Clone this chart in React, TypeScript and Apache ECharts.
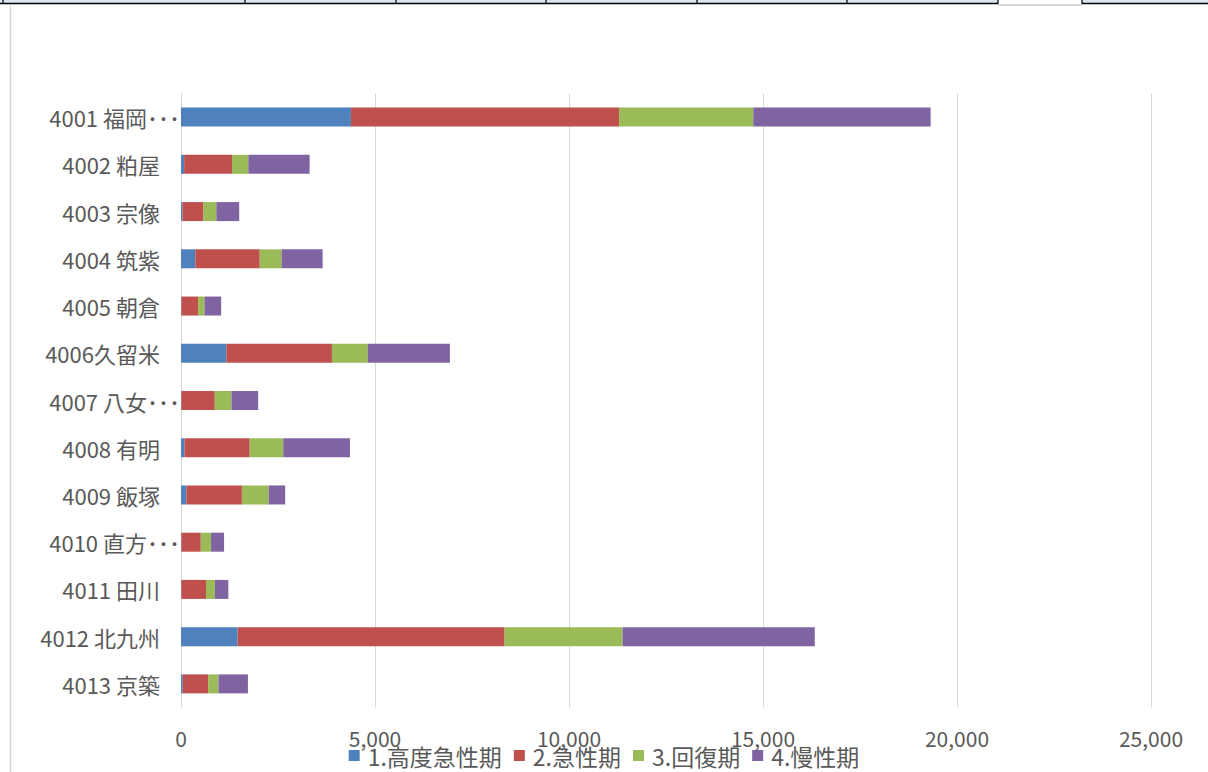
import React, { useEffect, useRef } from "react";
import * as echarts from "echarts";

const categories = [
  "4001 福岡･･･",
  "4002 粕屋",
  "4003 宗像",
  "4004 筑紫",
  "4005 朝倉",
  "4006久留米",
  "4007 八女･･･",
  "4008 有明",
  "4009 飯塚",
  "4010 直方･･･",
  "4011 田川",
  "4012 北九州",
  "4013 京築",
];
const truncated = [true, false, false, false, false, false, true, false, false, true, false, false, false];

const seriesNames = ["1.高度急性期", "2.急性期", "3.回復期", "4.慢性期"];
const highAcute = [4380, 80, 40, 370, 10, 1170, 10, 90, 140, 10, 10, 1460, 45];
const acute = [6910, 1235, 540, 1660, 430, 2720, 860, 1680, 1430, 500, 635, 6880, 655];
const recovery = [3460, 420, 330, 560, 165, 925, 430, 865, 690, 265, 230, 3040, 265];
const chronic = [4570, 1580, 590, 1060, 430, 2115, 690, 1720, 425, 335, 345, 4955, 760];
const colors = ["#4F81BD", "#C0504D", "#9BBB59", "#8064A2"];
const xTicks = { min: 0, max: 25000, interval: 5000 };

const FONT = "'Noto Sans CJK JP', 'Noto Sans', sans-serif";

export default function App() {
  const ref = useRef<HTMLDivElement>(null);
  useEffect(() => {
    if (!ref.current) return;
    const chart = echarts.init(ref.current, null, { renderer: "svg" });
    const values = [highAcute, acute, recovery, chronic];
    const cellDividers = [3, 245, 396, 546, 697, 847, 998];
    chart.setOption({
      animation: false,
      backgroundColor: "#ffffff",
      textStyle: { fontFamily: FONT },
      grid: { left: 181, right: 57, top: 93.5, bottom: 64.5, containLabel: false },
      xAxis: {
        type: "value",
        min: xTicks.min,
        max: xTicks.max,
        interval: xTicks.interval,
        axisLine: { show: false },
        axisTick: { show: false },
        splitLine: { show: true, lineStyle: { color: "#D9D9D9", width: 1 } },
        axisLabel: {
          color: "#595959",
          fontSize: 21,
          fontFamily: FONT,
          margin: 20,
          formatter: (v: number) => v.toLocaleString("en-US"),
        },
      },
      yAxis: {
        type: "category",
        inverse: true,
        data: categories.map((c, i) => ({
          value: c,
          textStyle: { padding: truncated[i] ? [0, 0, 0, 0] : [0, 20, 0, 0] },
        })),
        axisLine: { show: true, lineStyle: { color: "#D9D9D9", width: 1 } },
        axisTick: { show: false },
        axisLabel: { color: "#595959", fontSize: 22, fontFamily: FONT, margin: 1 },
      },
      legend: {
        bottom: 0,
        left: "center",
        itemWidth: 11,
        itemHeight: 11,
        itemGap: 12,
        icon: "rect",
        textStyle: { color: "#595959", fontSize: 23, fontFamily: FONT, padding: [0, 0, 0, 3] },
        data: seriesNames,
      },
      series: seriesNames.map((name, i) => ({
        name,
        type: "bar",
        stack: "total",
        barWidth: 19,
        itemStyle: { color: colors[i] },
        data: values[i],
      })),
      graphic: [
        { type: "rect", shape: { x: 0, y: 0, width: 998, height: 3 }, style: { fill: "#DCE6F1" }, silent: true },
        { type: "rect", shape: { x: 1082, y: 0, width: 126, height: 3 }, style: { fill: "#DCE6F1" }, silent: true },
        { type: "line", shape: { x1: 0, y1: 3.5, x2: 998, y2: 3.5 }, style: { stroke: "#000", lineWidth: 1.5 }, silent: true },
        { type: "line", shape: { x1: 1082, y1: 3.5, x2: 1208, y2: 3.5 }, style: { stroke: "#000", lineWidth: 1.5 }, silent: true },
        ...cellDividers.map((x) => ({
          type: "line",
          shape: { x1: x, y1: 0, x2: x, y2: 4 },
          style: { stroke: "#000", lineWidth: 1.2 },
          silent: true,
        })),
        { type: "line", shape: { x1: 1082, y1: 0, x2: 1082, y2: 4 }, style: { stroke: "#000", lineWidth: 1.2 }, silent: true },
        { type: "line", shape: { x1: 998, y1: 5, x2: 1082, y2: 5 }, style: { stroke: "#D9D9D9", lineWidth: 2 }, silent: true },
        { type: "line", shape: { x1: 10.5, y1: 5, x2: 10.5, y2: 772 }, style: { stroke: "#D9D9D9", lineWidth: 1.5 }, silent: true },
      ],
    });
    return () => chart.dispose();
  }, []);
  return (
    <div
      ref={ref}
      style={{ position: "fixed", left: 0, top: 0, width: 1208, height: 772, background: "#fff" }}
    />
  );
}
